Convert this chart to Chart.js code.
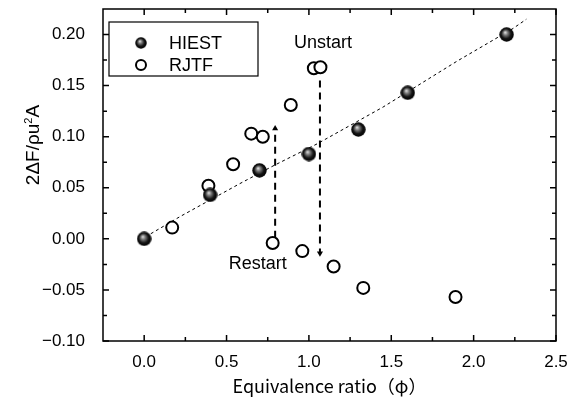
<!DOCTYPE html>
<html>
<head>
<meta charset="utf-8">
<script src="https://cdn.jsdelivr.net/npm/chart.js@4.4.1/dist/chart.umd.min.js"></script>
<style>
  html, body { margin: 0; padding: 0; background: #fff; }
</style>
</head>
<body>
<canvas id="c" width="567" height="402"></canvas>
<script>
// HIEST shots
const hiestPhi = [0.00, 0.40, 0.70, 1.00, 1.30, 1.60, 2.20];
const hiestThrust = [0.000, 0.043, 0.067, 0.083, 0.107, 0.143, 0.200];

// RJTF runs
const rjtfPhi = [0.17, 0.39, 0.54, 0.65, 0.72, 0.89, 1.03, 1.07, 0.78, 0.96, 1.15, 1.33, 1.89];
const rjtfThrust = [0.011, 0.052, 0.073, 0.103, 0.100, 0.131, 0.167, 0.168, -0.004, -0.012, -0.027, -0.048, -0.057];

// dotted trend through the HIEST data
const fitPhi = [0.04, 0.22, 0.58, 0.79, 1.05, 1.45, 1.90, 2.24, 2.32];
const fitThrust = [0.005, 0.022, 0.054, 0.072, 0.093, 0.129, 0.174, 0.206, 0.215];

// restart / unstart jumps
const restartPhi = [0.795, 0.795];
const restartThrust = [0.001, 0.108];
const unstartPhi = [1.067, 1.067];
const unstartThrust = [0.155, -0.014];

const xTicks = [0, 0.5, 1.0, 1.5, 2.0, 2.5];
const yTicks = [-0.10, -0.05, 0.00, 0.05, 0.10, 0.15, 0.20];

const notes = [
  { text: 'Unstart', x: 1.086, y: 0.192 },
  { text: 'Restart', x: 0.69, y: -0.0246 }
];

const FONT = '"Liberation Sans", Arial, sans-serif';
const JFONT = '"Noto Sans CJK JP", "Liberation Sans", sans-serif';

const pts = (xs, ys) => xs.map((v, i) => ({ x: v, y: ys[i] }));

// shaded sphere used as the HIEST marker
function makeBall(d) {
  const c = document.createElement('canvas');
  c.width = d; c.height = d;
  const g = c.getContext('2d');
  const r = d / 2;
  const grad = g.createRadialGradient(r * 0.8, r * 0.7, 0, r, r, r);
  grad.addColorStop(0, '#ececec');
  grad.addColorStop(0.3, '#7a7a7a');
  grad.addColorStop(0.65, '#141414');
  grad.addColorStop(1, '#000');
  g.fillStyle = grad;
  g.beginPath();
  g.arc(r, r, r - 0.3, 0, Math.PI * 2);
  g.fill();
  return c;
}
const ball = makeBall(15);

// no automatic overflow padding: the chart area is set by layout + afterFit
const noPad = s => { s.paddingLeft = s.paddingRight = s.paddingTop = s.paddingBottom = 0; };

const decor = {
  id: 'decor',
  afterDraw(chart) {
    const { ctx, chartArea: a, scales: { x, y } } = chart;
    ctx.save();
    ctx.strokeStyle = '#000';
    ctx.fillStyle = '#000';

    // frame
    ctx.lineWidth = 1.5;
    ctx.strokeRect(a.left, a.top, a.right - a.left, a.bottom - a.top);

    // inward ticks on every side
    const tickX = (v, len) => {
      const px = x.getPixelForValue(v);
      ctx.beginPath();
      ctx.moveTo(px, a.bottom); ctx.lineTo(px, a.bottom - len);
      ctx.moveTo(px, a.top); ctx.lineTo(px, a.top + len);
      ctx.stroke();
    };
    const tickY = (v, len) => {
      const py = y.getPixelForValue(v);
      ctx.beginPath();
      ctx.moveTo(a.left, py); ctx.lineTo(a.left + len, py);
      ctx.moveTo(a.right, py); ctx.lineTo(a.right - len, py);
      ctx.stroke();
    };
    xTicks.forEach(v => { tickX(v, 6); if (v + 0.25 < 2.5) tickX(v + 0.25, 4); });
    yTicks.forEach(v => { tickY(v, 6); if (v + 0.025 < 0.22) tickY(v + 0.025, 4); });

    // text notes
    ctx.font = '18px ' + FONT;
    ctx.textAlign = 'center';
    ctx.textBaseline = 'middle';
    notes.forEach(n => ctx.fillText(n.text, x.getPixelForValue(n.x), y.getPixelForValue(n.y)));

    // legend box
    const bx = a.left + 6, by = a.top + 13, bw = 149, bh = 54;
    ctx.lineWidth = 1.2;
    ctx.fillStyle = '#fff';
    ctx.fillRect(bx, by, bw, bh);
    ctx.strokeRect(bx, by, bw, bh);
    ctx.fillStyle = '#000';
    ctx.textAlign = 'left';
    const ds = chart.data.datasets;
    ctx.drawImage(ball, bx + 32 - 6, by + 21 - 6, 12, 12);
    ctx.fillText(ds[0].label, bx + 60, by + 22);
    ctx.lineWidth = 2;
    ctx.beginPath();
    ctx.arc(bx + 32, by + 43, 5, 0, Math.PI * 2);
    ctx.stroke();
    ctx.fillText(ds[1].label, bx + 60, by + 44);

    // y-axis title: 2ΔF/ρu²A
    ctx.translate(32, 145);
    ctx.rotate(-Math.PI / 2);
    const big = '19px ' + FONT, sup = '11px ' + FONT;
    const s1 = '2\u0394F/\u03c1u', s3 = 'A';
    ctx.font = big;
    const w1 = ctx.measureText(s1).width;
    const w3 = ctx.measureText(s3).width;
    ctx.font = sup;
    const w2 = ctx.measureText('2').width;
    const start = -(w1 + w2 + w3) / 2;
    ctx.textAlign = 'left';
    ctx.textBaseline = 'alphabetic';
    ctx.font = big;
    ctx.fillText(s1, start, 7);
    ctx.font = sup;
    ctx.fillText('2', start + w1, -0.5);
    ctx.font = big;
    ctx.fillText(s3, start + w1 + w2, 7);
    ctx.restore();
  }
};

new Chart(document.getElementById('c'), {
  data: {
    datasets: [
      {
        type: 'scatter', label: 'HIEST',
        data: pts(hiestPhi, hiestThrust),
        pointStyle: ball, pointRadius: 7.5
      },
      {
        type: 'scatter', label: 'RJTF',
        data: pts(rjtfPhi, rjtfThrust),
        pointStyle: 'circle', pointRadius: 6, borderWidth: 2,
        borderColor: '#000', backgroundColor: '#fff'
      },
      {
        type: 'line', label: 'restart',
        data: pts(restartPhi, restartThrust),
        borderColor: '#000', borderWidth: 2, borderDash: [7, 5],
        pointRadius: [0, 3.5], pointStyle: 'triangle',
        pointBackgroundColor: '#000', pointBorderWidth: 0
      },
      {
        type: 'line', label: 'unstart',
        data: pts(unstartPhi, unstartThrust),
        borderColor: '#000', borderWidth: 2, borderDash: [7, 5],
        pointRadius: [0, 3.5], pointStyle: 'triangle', pointRotation: 180,
        pointBackgroundColor: '#000', pointBorderWidth: 0
      },
      {
        type: 'line', label: 'fit',
        data: pts(fitPhi, fitThrust),
        borderColor: '#000', borderWidth: 1, borderDash: [3, 3],
        pointRadius: 0
      }
    ]
  },
  options: {
    responsive: false,
    animation: false,
    events: [],
    layout: { padding: { top: 9, right: 11, left: 0, bottom: 0 } },
    plugins: { legend: { display: false }, tooltip: { enabled: false } },
    scales: {
      x: {
        type: 'linear', min: -0.25, max: 2.5,
        grid: { display: false }, border: { display: false },
        afterBuildTicks: s => { s.ticks = xTicks.map(v => ({ value: v })); },
        afterFit: s => { s.height = 61; noPad(s); },
        ticks: {
          color: '#000', padding: 3, maxRotation: 0,
          font: { family: FONT, size: 17 },
          callback: v => Number(v).toFixed(1)
        },
        title: {
          display: true, text: 'Equivalence ratio（φ）', color: '#000',
          font: { family: JFONT, size: 18 }, padding: { top: 0, bottom: 5 }
        }
      },
      y: {
        type: 'linear', min: -0.10, max: 0.225,
        grid: { display: false }, border: { display: false },
        afterBuildTicks: s => { s.ticks = yTicks.map(v => ({ value: v })); },
        afterFit: s => { s.width = 103; noPad(s); },
        ticks: {
          color: '#000', padding: 10,
          font: { family: FONT, size: 17 },
          callback: v => (v < -1e-9 ? '\u2212' : '') + Math.abs(v).toFixed(2)
        }
      }
    }
  },
  plugins: [decor]
});
</script>
</body>
</html>
